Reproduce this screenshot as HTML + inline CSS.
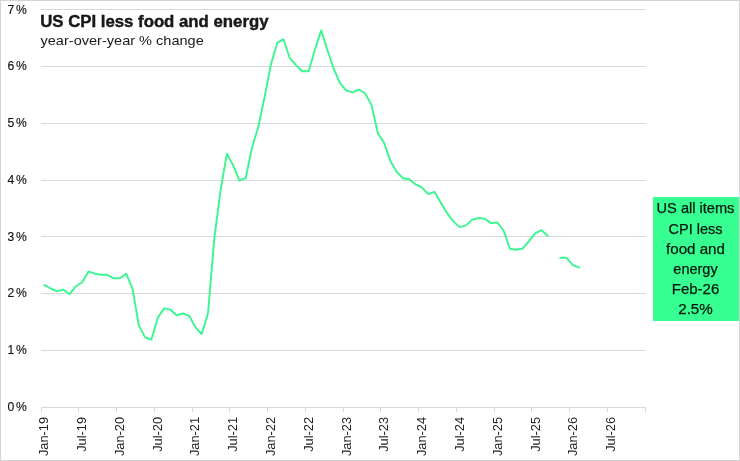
<!DOCTYPE html>
<html><head><meta charset="utf-8"><title>US CPI less food and energy</title>
<style>
html,body{margin:0;padding:0;background:#fff;}
svg{display:block;}
text{font-family:"Liberation Sans",sans-serif;fill:#1a1a1a;}
.yl{font-size:13.2px;letter-spacing:1.9px;text-anchor:end;fill:#111;stroke:#111;stroke-width:0.15px;}
.xl{font-size:13.3px;text-anchor:end;fill:#222;}
.box{font-size:14.4px;text-anchor:middle;fill:#06180e;stroke:#06180e;stroke-width:0.25px;}
</style></head><body>
<svg width="740" height="461" viewBox="0 0 740 461">
<rect x="0" y="0" width="740" height="461" fill="#fff"/>
<rect x="0.5" y="0.5" width="739" height="460" fill="none" stroke="#d4d4d4" stroke-width="1"/>
<g stroke="#d9d9d9" stroke-width="1" fill="none" shape-rendering="crispEdges">
<line x1="41" x2="646" y1="407.5" y2="407.5"/>
<line x1="41" x2="646" y1="350.5" y2="350.5"/>
<line x1="41" x2="646" y1="293.5" y2="293.5"/>
<line x1="41" x2="646" y1="236.5" y2="236.5"/>
<line x1="41" x2="646" y1="180.5" y2="180.5"/>
<line x1="41" x2="646" y1="123.5" y2="123.5"/>
<line x1="41" x2="646" y1="66.5" y2="66.5"/>
<line x1="41" x2="646" y1="9.5" y2="9.5"/>
<line x1="41.5" x2="41.5" y1="407.5" y2="412"/>
<line x1="78.5" x2="78.5" y1="407.5" y2="412"/>
<line x1="116.5" x2="116.5" y1="407.5" y2="412"/>
<line x1="154.5" x2="154.5" y1="407.5" y2="412"/>
<line x1="192.5" x2="192.5" y1="407.5" y2="412"/>
<line x1="229.5" x2="229.5" y1="407.5" y2="412"/>
<line x1="267.5" x2="267.5" y1="407.5" y2="412"/>
<line x1="305.5" x2="305.5" y1="407.5" y2="412"/>
<line x1="343.5" x2="343.5" y1="407.5" y2="412"/>
<line x1="380.5" x2="380.5" y1="407.5" y2="412"/>
<line x1="418.5" x2="418.5" y1="407.5" y2="412"/>
<line x1="456.5" x2="456.5" y1="407.5" y2="412"/>
<line x1="494.5" x2="494.5" y1="407.5" y2="412"/>
<line x1="531.5" x2="531.5" y1="407.5" y2="412"/>
<line x1="569.5" x2="569.5" y1="407.5" y2="412"/>
<line x1="607.5" x2="607.5" y1="407.5" y2="412"/>
<line x1="645.5" x2="645.5" y1="407.5" y2="412"/>
</g>
<g>
<text class="yl" transform="translate(28.6,410.7) scale(0.92,1)">0%</text>
<text class="yl" transform="translate(28.6,354.0) scale(0.92,1)">1%</text>
<text class="yl" transform="translate(28.6,297.2) scale(0.92,1)">2%</text>
<text class="yl" transform="translate(28.6,240.5) scale(0.92,1)">3%</text>
<text class="yl" transform="translate(28.6,183.8) scale(0.92,1)">4%</text>
<text class="yl" transform="translate(28.6,127.0) scale(0.92,1)">5%</text>
<text class="yl" transform="translate(28.6,70.3) scale(0.92,1)">6%</text>
<text class="yl" transform="translate(28.6,13.6) scale(0.92,1)">7%</text>
</g>
<g>
<text class="xl" transform="translate(48.2,416.9) rotate(-90) scale(0.965,1)">Jan-19</text>
<text class="xl" transform="translate(86.0,416.9) rotate(-90) scale(0.965,1)">Jul-19</text>
<text class="xl" transform="translate(123.8,416.9) rotate(-90) scale(0.965,1)">Jan-20</text>
<text class="xl" transform="translate(161.6,416.9) rotate(-90) scale(0.965,1)">Jul-20</text>
<text class="xl" transform="translate(199.4,416.9) rotate(-90) scale(0.965,1)">Jan-21</text>
<text class="xl" transform="translate(237.2,416.9) rotate(-90) scale(0.965,1)">Jul-21</text>
<text class="xl" transform="translate(275.0,416.9) rotate(-90) scale(0.965,1)">Jan-22</text>
<text class="xl" transform="translate(312.8,416.9) rotate(-90) scale(0.965,1)">Jul-22</text>
<text class="xl" transform="translate(350.6,416.9) rotate(-90) scale(0.965,1)">Jan-23</text>
<text class="xl" transform="translate(388.4,416.9) rotate(-90) scale(0.965,1)">Jul-23</text>
<text class="xl" transform="translate(426.2,416.9) rotate(-90) scale(0.965,1)">Jan-24</text>
<text class="xl" transform="translate(464.0,416.9) rotate(-90) scale(0.965,1)">Jul-24</text>
<text class="xl" transform="translate(501.8,416.9) rotate(-90) scale(0.965,1)">Jan-25</text>
<text class="xl" transform="translate(539.6,416.9) rotate(-90) scale(0.965,1)">Jul-25</text>
<text class="xl" transform="translate(577.4,416.9) rotate(-90) scale(0.965,1)">Jan-26</text>
<text class="xl" transform="translate(615.2,416.9) rotate(-90) scale(0.965,1)">Jul-26</text>
</g>
<polyline points="44.4,285.1 50.7,288.5 57.0,291.3 63.3,289.6 69.6,294.2 75.9,286.2 82.2,282.2 88.5,271.4 94.8,273.7 101.1,274.8 107.3,274.8 113.6,278.3 119.9,278.3 126.2,273.7 132.5,288.5 138.8,325.4 145.1,337.4 151.4,339.6 157.7,318.0 164.0,308.4 170.2,309.5 176.5,315.2 182.8,313.5 189.1,315.8 195.4,327.1 201.7,334.0 208.0,313.5 214.3,238.5 220.6,190.1 226.9,153.7 233.1,165.1 239.4,180.5 245.7,178.2 252.0,147.5 258.3,127.0 264.6,96.9 270.9,64.5 277.2,42.9 283.5,39.2 289.8,58.2 296.0,65.1 302.3,71.3 308.6,71.3 314.9,49.7 321.2,30.4 327.5,50.3 333.8,69.0 340.1,83.3 346.4,90.6 352.7,92.4 358.9,89.5 365.2,93.5 371.5,104.9 377.8,133.3 384.1,142.9 390.4,161.1 396.7,171.9 403.0,178.2 409.3,179.3 415.6,184.4 421.8,187.3 428.1,194.1 434.4,191.8 440.7,202.6 447.0,212.9 453.3,221.4 459.6,227.1 465.9,225.4 472.2,219.7 478.5,218.0 484.7,218.6 491.0,223.1 497.3,222.5 503.6,230.5 509.9,248.7 516.2,249.8 522.5,248.7 528.8,241.3 535.1,233.3 541.4,230.2 547.6,235.6" fill="none" stroke="#3cf690" stroke-width="1.95" stroke-linejoin="round" stroke-linecap="round"/>
<polyline points="560.2,257.8 566.5,257.8 572.8,265.2 579.1,267.4" fill="none" stroke="#3cf690" stroke-width="1.95" stroke-linejoin="round" stroke-linecap="round"/>
<text x="40.2" y="26.6" font-size="16px" font-weight="bold" fill="#000" stroke="#000" stroke-width="0.35" textLength="228.3" lengthAdjust="spacingAndGlyphs">US CPI less food and energy</text>
<text x="40.5" y="44.5" font-size="13.6px" fill="#1a1a1a" textLength="163.3" lengthAdjust="spacingAndGlyphs">year-over-year % change</text>
<rect x="653" y="197" width="86" height="124" fill="#37ff91"/>
<text class="box" x="695.5" y="213.4" textLength="77.8" lengthAdjust="spacingAndGlyphs">US all items</text>
<text class="box" x="695.5" y="233.6" textLength="54.0" lengthAdjust="spacingAndGlyphs">CPI less</text>
<text class="box" x="695.5" y="253.8" textLength="58.8" lengthAdjust="spacingAndGlyphs">food and</text>
<text class="box" x="695.5" y="274.0" textLength="44.3" lengthAdjust="spacingAndGlyphs">energy</text>
<text class="box" x="695.5" y="294.2" textLength="47.5" lengthAdjust="spacingAndGlyphs">Feb-26</text>
<text class="box" x="695.5" y="314.4" textLength="34.5" lengthAdjust="spacingAndGlyphs">2.5%</text>
</svg></body></html>
